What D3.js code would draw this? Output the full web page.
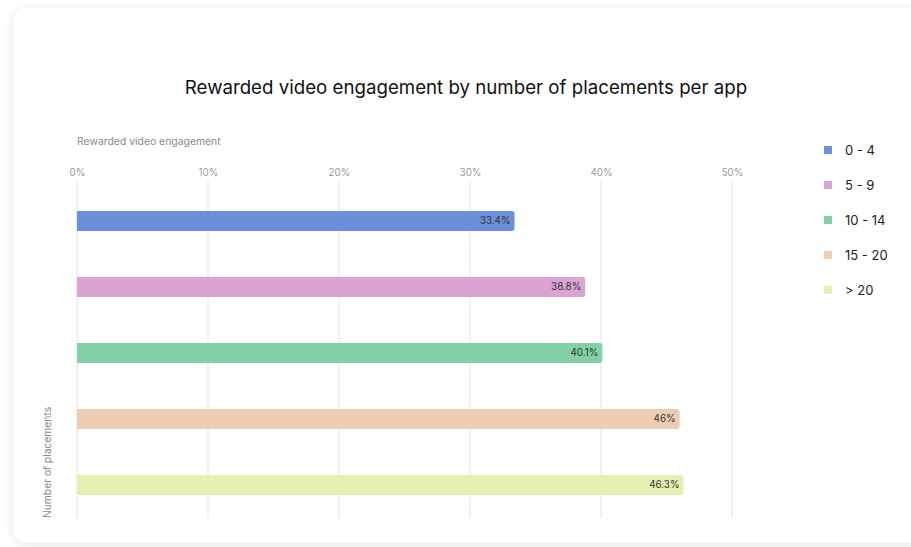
<!DOCTYPE html>
<html>
<head>
<meta charset="utf-8">
<script src="https://cdn.jsdelivr.net/npm/d3@7"></script>
<style>
  html, body { margin: 0; padding: 0; background: #ffffff; }
  body { width: 911px; height: 547px; overflow: hidden; font-family: Inter, "Noto Sans", sans-serif; }
</style>
</head>
<body>
<svg id="chart" width="911" height="547"></svg>
<script>
// Engagement per placement bucket
const categories = ["0 - 4", "5 - 9", "10 - 14", "15 - 20", "> 20"];
const values = [33.4, 38.8, 40.1, 46, 46.3];
const valueLabels = ["33.4%", "38.8%", "40.1%", "46%", "46.3%"];
const colors = ["#6a90dc", "#dba4d4", "#82d1a7", "#eecdb2", "#e6f0b4"];
const tickValues = [0, 10, 20, 30, 40, 50];

const svg = d3.select("#chart");
const defs = svg.append("defs");
const shadow = defs.append("filter").attr("id", "cardShadow")
  .attr("x", "-10%").attr("y", "-10%").attr("width", "120%").attr("height", "120%");
shadow.append("feDropShadow").attr("dx", 0).attr("dy", 1).attr("stdDeviation", 4)
  .attr("flood-color", "#000").attr("flood-opacity", 0.12);

// Card
svg.append("rect")
  .attr("x", 13).attr("y", 8).attr("width", 940).attr("height", 535)
  .attr("rx", 14).attr("fill", "#fff").attr("filter", "url(#cardShadow)");

// Title
svg.append("text")
  .attr("x", 466).attr("y", 94)
  .attr("text-anchor", "middle")
  .attr("font-size", 18.7).attr("fill", "#111")
  .text("Rewarded video engagement by number of placements per app");

const x = d3.scaleLinear().domain([0, 50]).range([77, 732]);
const y = d3.scaleBand().domain(categories).range([188, 518]).paddingInner(0).paddingOuter(0);
const barH = 20;

// Axis title
svg.append("text")
  .attr("x", 77).attr("y", 145)
  .attr("font-size", 10.4).attr("fill", "#8a8a8a")
  .text("Rewarded video engagement");

// Top axis with gridlines
const axis = d3.axisTop(x).tickValues(tickValues).tickFormat(d => d + "%").tickSize(0).tickPadding(0);
const gAxis = svg.append("g").attr("transform", "translate(0,176)").call(axis);
gAxis.select(".domain").remove();
gAxis.selectAll("text").attr("font-size", 9.8).attr("fill", "#999").attr("font-family", "Inter, sans-serif");

svg.append("g").selectAll("line").data(tickValues).join("line")
  .attr("x1", d => x(d)).attr("x2", d => x(d))
  .attr("y1", 181).attr("y2", 518)
  .attr("stroke", "#e3e3e3").attr("stroke-width", 1);

// Y axis title
svg.append("text")
  .attr("transform", "translate(51,518) rotate(-90)")
  .attr("font-size", 10.3).attr("fill", "#8a8a8a")
  .text("Number of placements");

// Bars: square at the baseline, rounded on the value end
const r = 3;
function barPath(x0, x1, yc) {
  const t = yc - barH / 2, b = yc + barH / 2;
  return `M${x0},${t}H${x1 - r}Q${x1},${t} ${x1},${t + r}V${b - r}Q${x1},${b} ${x1 - r},${b}H${x0}Z`;
}
const rows = categories.map((c, i) => ({ c, v: values[i], label: valueLabels[i], color: colors[i] }));
svg.append("g").selectAll("path").data(rows).join("path")
  .attr("d", d => barPath(x(0), x(d.v), y(d.c) + y.bandwidth() / 2))
  .attr("fill", d => d.color);

svg.append("g").selectAll("text").data(rows).join("text")
  .attr("x", d => x(d.v) - 4)
  .attr("y", d => y(d.c) + y.bandwidth() / 2)
  .attr("dy", "0.35em")
  .attr("text-anchor", "end")
  .attr("font-size", 9.8).attr("fill", "#333")
  .text(d => d.label);

// Legend
const legend = svg.append("g").selectAll("g").data(rows).join("g")
  .attr("transform", (d, i) => `translate(824,${150 + i * 35})`);
legend.append("rect").attr("x", 0).attr("y", -4).attr("width", 8).attr("height", 8).attr("fill", d => d.color);
legend.append("text").attr("x", 21).attr("dy", "0.35em")
  .attr("font-size", 13).attr("fill", "#222").text(d => d.c);
</script>
</body>
</html>
